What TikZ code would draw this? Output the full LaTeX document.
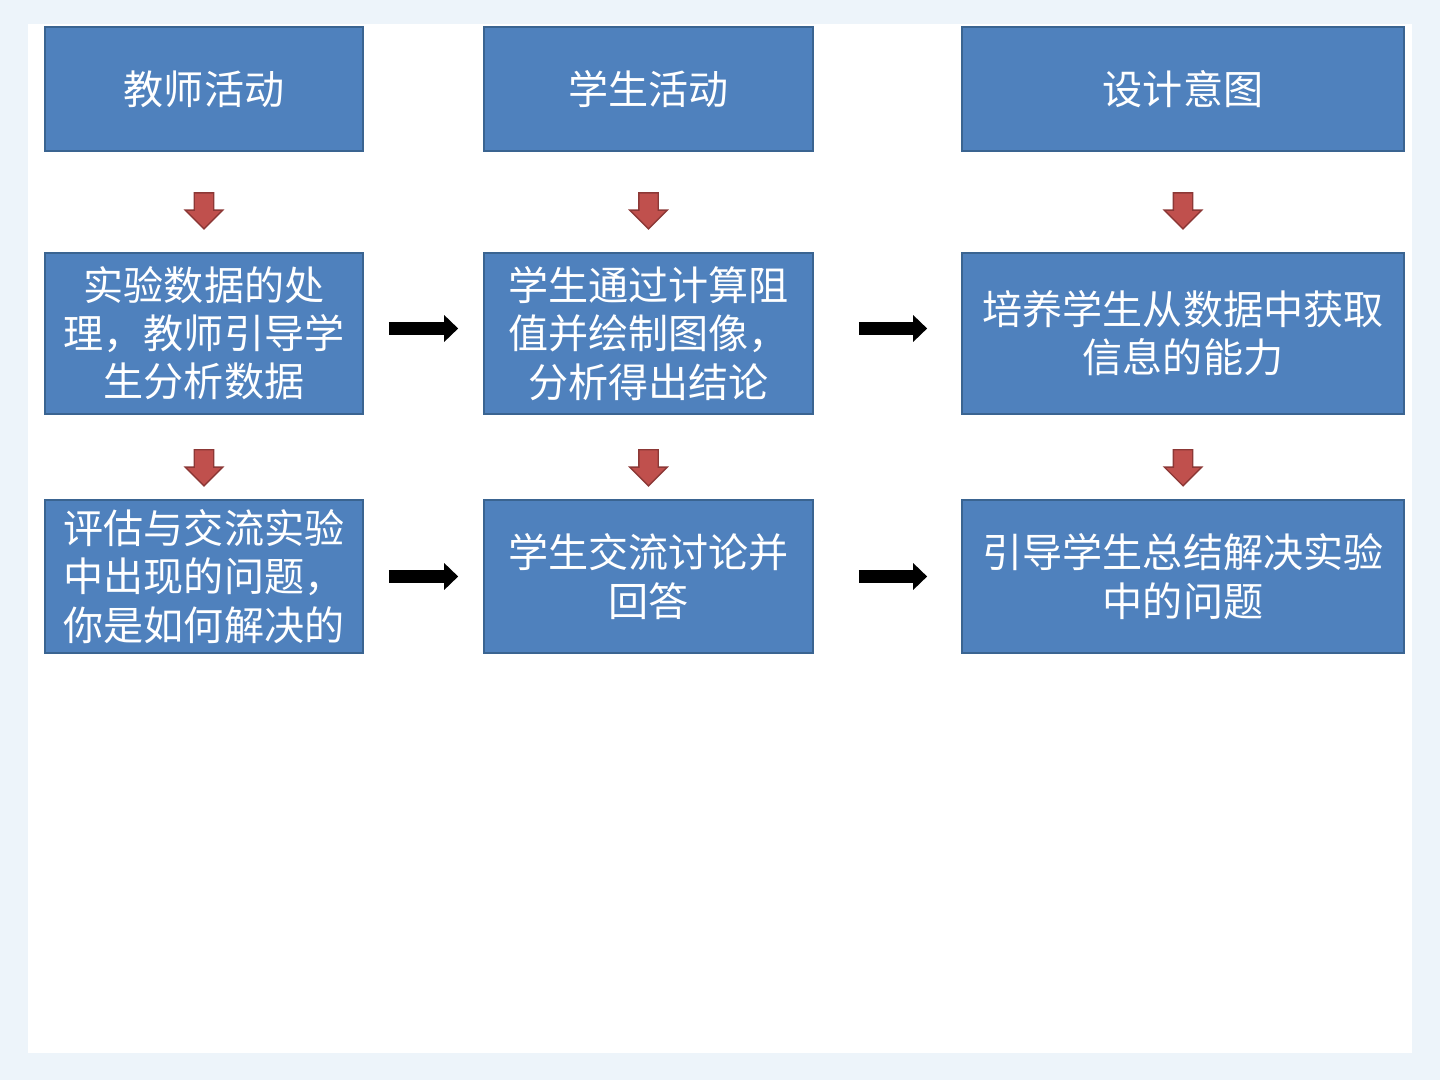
\documentclass[tikz,border=0pt]{standalone}
\usepackage{fontspec}
\newfontfamily\cjk{Noto Sans CJK SC}
\usetikzlibrary{positioning,calc,arrows.meta,shapes.arrows}

\definecolor{boxblue}{HTML}{4F81BD}
\definecolor{boxline}{HTML}{3A6491}
\definecolor{arrred}{HTML}{C0504D}
\definecolor{arrline}{HTML}{8C3836}
\definecolor{bgblue}{HTML}{EDF4FA}

\begin{document}
\begin{tikzpicture}[
    x=0.01cm, y=-0.01cm,
    box/.style={draw=boxline, fill=boxblue, text=white, align=center, inner sep=0pt,
                font=\cjk\fontsize{11.4pt}{13.7pt}\selectfont},
    downarr/.style={single arrow, draw=arrline, fill=arrred, shape border rotate=270,
                    minimum height=0.36cm, minimum width=0.36cm,
                    single arrow head extend=0.09cm, inner sep=0.09cm},
    rightarr/.style={line width=0.13cm, -{Triangle[length=0.14cm, width=0.26cm]}}
]

% page background
\fill[bgblue] (0,0) rectangle (1440,1080);
\fill[white] (28,24) rectangle (1412,1053);

% headers
\node[box, minimum width=3.18cm, minimum height=1.24cm] (T1) at (204,89) {教师活动};
\node[box, minimum width=3.29cm, minimum height=1.24cm] (T2) at (648.5,89) {学生活动};
\node[box, minimum width=4.42cm, minimum height=1.24cm] (T3) at (1183,89) {设计意图};

% second row
\node[box, minimum width=3.18cm, minimum height=1.61cm] (S1) at (204,333.5)
    {实验数据的处\\理，教师引导学\\生分析数据};
\node[box, minimum width=3.29cm, minimum height=1.61cm] (S2) at (648.5,333.5)
    {学生通过计算阻\\值并绘制图像，\\分析得出结论};
\node[box, minimum width=4.42cm, minimum height=1.61cm] (S3) at (1183,333.5)
    {培养学生从数据中获取\\信息的能力};

% third row
\node[box, minimum width=3.18cm, minimum height=1.53cm] (R1) at (204,576.5)
    {评估与交流实验\\中出现的问题，\\你是如何解决的};
\node[box, minimum width=3.29cm, minimum height=1.53cm] (R2) at (648.5,576.5)
    {学生交流讨论并\\回答};
\node[box, minimum width=4.42cm, minimum height=1.53cm] (R3) at (1183,576.5)
    {引导学生总结解决实验\\中的问题};

% red arrows down
\foreach \i in {1,2,3} {
    \path (T\i.south) -- (S\i.north) node[pos=0.54, downarr] (D1\i) {};
    \path (S\i.south) -- (R\i.north) node[pos=0.57, downarr] (D2\i) {};
}

% black arrows to the right
\foreach \r/\dy in {S/5,R/0} {
    \draw[rightarr, shorten <=0.25cm, shorten >=0.25cm]
        ([yshift=\dy*0.01cm]\r1.east) -- ([yshift=\dy*0.01cm]\r2.west);
    \draw[rightarr, shorten <=0.45cm, shorten >=0.34cm]
        ([yshift=\dy*0.01cm]\r2.east) -- ([yshift=\dy*0.01cm]\r3.west);
}

\end{tikzpicture}
\end{document}
